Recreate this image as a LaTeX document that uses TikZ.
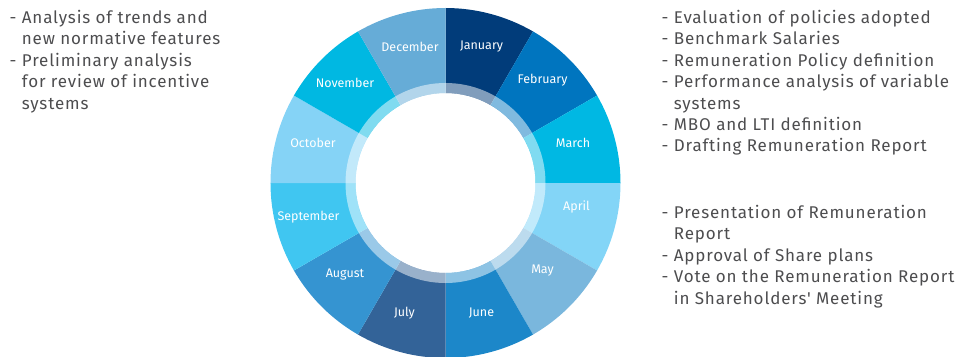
\documentclass[tikz,border=0pt]{standalone}
\usepackage{fontspec}
\setmainfont{Fira Sans}
\newfontfamily\notefont{Fira Sans}[LetterSpace=5]
\usepackage{tikz}
\usetikzlibrary{positioning}
\definecolor{janfill}{HTML}{013C7A}
\definecolor{febfill}{HTML}{0075BF}
\definecolor{marfill}{HTML}{00B8E3}
\definecolor{aprfill}{HTML}{83D5F7}
\definecolor{mayfill}{HTML}{7AB7DD}
\definecolor{junfill}{HTML}{1C87C9}
\definecolor{julfill}{HTML}{336398}
\definecolor{augfill}{HTML}{3594D1}
\definecolor{sepfill}{HTML}{40C6F1}
\definecolor{octfill}{HTML}{85D3F6}
\definecolor{novfill}{HTML}{00B8E2}
\definecolor{decfill}{HTML}{66ACD7}
\definecolor{notegrey}{HTML}{4D4D4F}
\tikzstyle{month} = [text=white, inner sep=0pt, font=\fontsize{12.5}{14}\selectfont]
\tikzstyle{notes} = [align=left, anchor=north west, inner sep=0pt, text=notegrey, font=\notefont\fontsize{17}{21.4}\selectfont]

\begin{document}
\begin{tikzpicture}[x=1pt, y=1pt]
        \useasboundingbox (-445.5,-173) rectangle (527.5,183);
        \fill [janfill] (90:90) arc (90:60:90) -- (60:175) arc (60:90:175) -- cycle;
        \fill [febfill] (60:90) arc (60:30:90) -- (30:175) arc (30:60:175) -- cycle;
        \fill [marfill] (30:90) arc (30:0:90) -- (0:175) arc (0:30:175) -- cycle;
        \fill [aprfill] (0:90) arc (0:-30:90) -- (-30:175) arc (-30:0:175) -- cycle;
        \fill [mayfill] (-30:90) arc (-30:-60:90) -- (-60:175) arc (-60:-30:175) -- cycle;
        \fill [junfill] (-60:90) arc (-60:-90:90) -- (-90:175) arc (-90:-60:175) -- cycle;
        \fill [julfill] (-90:90) arc (-90:-120:90) -- (-120:175) arc (-120:-90:175) -- cycle;
        \fill [augfill] (-120:90) arc (-120:-150:90) -- (-150:175) arc (-150:-120:175) -- cycle;
        \fill [sepfill] (-150:90) arc (-150:-180:90) -- (-180:175) arc (-180:-150:175) -- cycle;
        \fill [octfill] (180:90) arc (180:150:90) -- (150:175) arc (150:180:175) -- cycle;
        \fill [novfill] (150:90) arc (150:120:90) -- (120:175) arc (120:150:175) -- cycle;
        \fill [decfill] (120:90) arc (120:90:90) -- (90:175) arc (90:120:175) -- cycle;
        % lighter inner band
        \fill [white, opacity=0.5, even odd rule] (0,0) circle (100) (0,0) circle (90);

        \node (jan) [month] at (36,136) {January};
        \node (feb) [month] at (97,103) {February};
        \node (mar) [month] at (127.5,40) {March};
        \node (apr) [month] at (131,-24) {April};
        \node (may) [month] at (97,-88) {May};
        \node (jun) [month] at (36,-130) {June};
        \node (jul) [month] at (-41,-130) {July};
        \node (aug) [month] at (-100.5,-92) {August};
        \node (sep) [month] at (-137,-34) {September};
        \node (oct) [month] at (-132.5,40) {October};
        \node (nov) [month] at (-100.5,100) {November};
        \node (dec) [month] at (-35.5,136) {December};

        \node (decnotes) [notes] at (-436,173) {- Analysis of trends and\\ \phantom{- }new normative features\\- Preliminary analysis\\ \phantom{- }for review of incentive\\ \phantom{- }systems};
        \node (marnotes) [notes] at (216,173) {- Evaluation of policies adopted\\- Benchmark Salaries\\- Remuneration Policy definition\\- Performance analysis of variable\\ \phantom{- }systems\\- MBO and LTI definition\\- Drafting Remuneration Report};
        \node (maynotes) [notes] at (216,-22) {- Presentation of Remuneration\\ \phantom{- }Report\\- Approval of Share plans\\- Vote on the Remuneration Report\\ \phantom{- }in Shareholders' Meeting};
\end{tikzpicture}
\end{document}
